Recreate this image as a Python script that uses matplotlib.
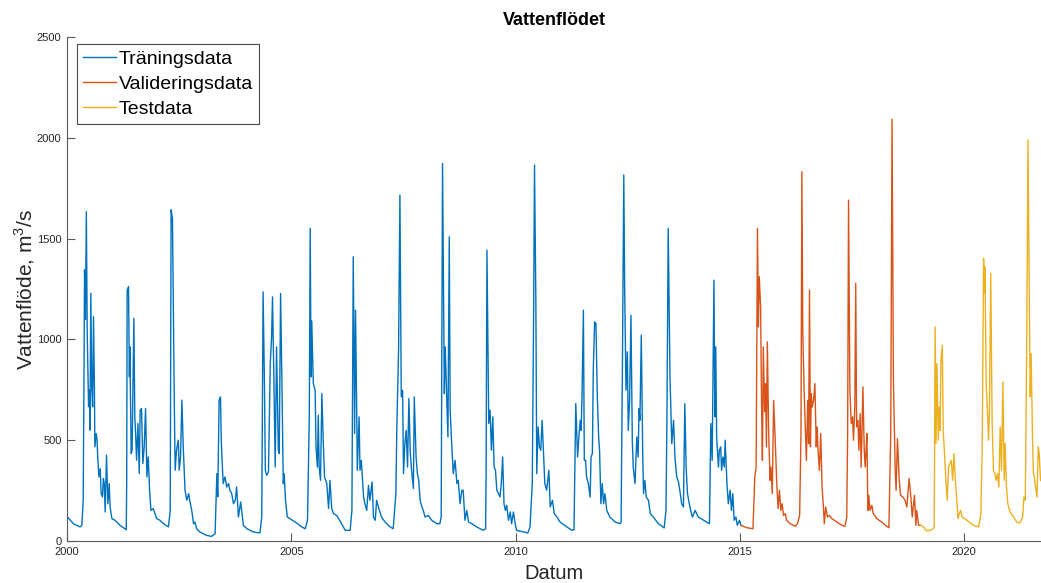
import matplotlib.pyplot as plt

plt.rcParams['font.family'] = ['Liberation Sans', 'DejaVu Sans']
plt.rcParams['mathtext.fontset'] = 'custom'
plt.rcParams['mathtext.rm'] = 'Liberation Sans'

# Flow (m3/s) against time in decimal years
train_t = [
    2000.00, 2000.14, 2000.29, 2000.33, 2000.36, 2000.38, 2000.39, 2000.41, 2000.43, 2000.45,
    2000.48, 2000.50, 2000.51, 2000.53, 2000.55, 2000.57, 2000.59, 2000.61, 2000.62, 2000.65,
    2000.67, 2000.68, 2000.71, 2000.74, 2000.76, 2000.79, 2000.81, 2000.83, 2000.85, 2000.88,
    2000.91, 2000.94, 2000.96, 2001.00, 2001.07, 2001.18, 2001.32,
    2001.33, 2001.34, 2001.37, 2001.39, 2001.40, 2001.43, 2001.45, 2001.49, 2001.51, 2001.53,
    2001.55, 2001.58, 2001.61, 2001.63, 2001.66, 2001.69, 2001.72, 2001.75, 2001.78, 2001.81,
    2001.84, 2001.87, 2001.92, 2002.00, 2002.07, 2002.15, 2002.26,
    2002.30, 2002.32, 2002.35, 2002.39, 2002.41, 2002.44, 2002.48, 2002.50, 2002.53, 2002.56,
    2002.59, 2002.63, 2002.67, 2002.71, 2002.74, 2002.78, 2002.82, 2002.85, 2002.89, 2002.96,
    2003.11, 2003.22, 2003.30,
    2003.34, 2003.36, 2003.39, 2003.42, 2003.44, 2003.48, 2003.52, 2003.56, 2003.60, 2003.63,
    2003.67, 2003.71, 2003.75, 2003.78, 2003.82, 2003.87, 2003.93, 2004.01, 2004.15, 2004.30,
    2004.34, 2004.37, 2004.40, 2004.42, 2004.45, 2004.49, 2004.53, 2004.56, 2004.58, 2004.61,
    2004.64, 2004.67, 2004.71, 2004.73, 2004.76, 2004.79, 2004.82, 2004.84, 2004.87, 2004.91,
    2004.97, 2005.12, 2005.23, 2005.31,
    2005.36, 2005.40, 2005.42, 2005.44, 2005.45, 2005.47, 2005.49, 2005.53, 2005.55, 2005.58,
    2005.60, 2005.62, 2005.65, 2005.68, 2005.71, 2005.74, 2005.79, 2005.83, 2005.86, 2005.90,
    2005.94, 2006.01, 2006.12, 2006.20, 2006.31,
    2006.35, 2006.38, 2006.41, 2006.43, 2006.45, 2006.47, 2006.51, 2006.53, 2006.56, 2006.61,
    2006.64, 2006.68, 2006.72, 2006.75, 2006.80, 2006.83, 2006.87, 2006.90, 2006.94, 2007.01,
    2007.09, 2007.20, 2007.27,
    2007.33, 2007.35, 2007.39, 2007.42, 2007.45, 2007.48, 2007.50, 2007.53, 2007.56, 2007.59,
    2007.62, 2007.65, 2007.68, 2007.72, 2007.74, 2007.78, 2007.81, 2007.84, 2007.87, 2007.91,
    2007.94, 2007.98, 2008.05, 2008.13, 2008.24, 2008.31,
    2008.34, 2008.37, 2008.41, 2008.43, 2008.46, 2008.49, 2008.52, 2008.54, 2008.57, 2008.61,
    2008.65, 2008.69, 2008.72, 2008.76, 2008.80, 2008.83, 2008.87, 2008.91, 2008.95, 2009.02,
    2009.13, 2009.28, 2009.33,
    2009.34, 2009.36, 2009.40, 2009.43, 2009.46, 2009.49, 2009.52, 2009.55, 2009.58, 2009.62,
    2009.65, 2009.68, 2009.71, 2009.74, 2009.77, 2009.80, 2009.84, 2009.88, 2009.91, 2009.95,
    2009.99, 2010.02, 2010.17, 2010.27, 2010.32,
    2010.37, 2010.40, 2010.42, 2010.45, 2010.47, 2010.50, 2010.53, 2010.56, 2010.59, 2010.62,
    2010.65, 2010.69, 2010.74, 2010.77, 2010.82, 2010.86, 2010.92, 2010.99, 2011.14, 2011.25,
    2011.30,
    2011.34, 2011.38, 2011.41, 2011.44, 2011.46, 2011.48, 2011.51, 2011.53, 2011.56, 2011.58,
    2011.62, 2011.66, 2011.68, 2011.71, 2011.73, 2011.76, 2011.79, 2011.82, 2011.85, 2011.87,
    2011.90, 2011.93, 2011.96, 2011.99, 2012.03, 2012.10, 2012.22, 2012.33,
    2012.35, 2012.38, 2012.41, 2012.43, 2012.46, 2012.49, 2012.51, 2012.54, 2012.57, 2012.60,
    2012.62, 2012.66, 2012.70, 2012.73, 2012.75, 2012.77, 2012.80, 2012.83, 2012.85, 2012.88,
    2012.91, 2012.96, 2013.00, 2013.07, 2013.18, 2013.31,
    2013.35, 2013.37, 2013.40, 2013.44, 2013.48, 2013.52, 2013.55, 2013.59, 2013.63, 2013.67,
    2013.70, 2013.74, 2013.77, 2013.80, 2013.83, 2013.87, 2013.90, 2013.94, 2014.00, 2014.07,
    2014.19, 2014.26, 2014.32,
    2014.35, 2014.38, 2014.42, 2014.44, 2014.46, 2014.48, 2014.52, 2014.54, 2014.57, 2014.59,
    2014.62, 2014.65, 2014.67, 2014.71, 2014.74, 2014.78, 2014.81, 2014.84, 2014.87, 2014.91,
    2014.94, 2014.99, 2015.02,
]
train_q = [
    122, 86, 70, 78, 202, 897, 1345, 1100, 1634, 1030,
    666, 749, 550, 1229, 765, 666, 1113, 765, 467, 533,
    500, 434, 318, 359, 235, 219, 310, 285, 144, 426,
    185, 285, 169, 111, 103, 78, 56,
    300, 1245, 1262, 815, 964, 434, 450, 1105, 616, 525,
    401, 583, 335, 649, 657, 384, 467, 657, 318, 417,
    252, 152, 161, 111, 103, 86, 70,
    150, 1643, 1600, 700, 351, 450, 500, 351, 417, 699,
    467, 252, 202, 235, 194, 152, 86, 94, 61, 45,
    28, 23, 36,
    335, 219, 699, 715, 483, 285, 318, 268, 285, 252,
    235, 185, 202, 268, 119, 194, 78, 61, 45, 40,
    119, 1236, 781, 351, 326, 342, 880, 1013, 1211, 814,
    367, 963, 450, 434, 1228, 781, 285, 334, 202, 119,
    111, 89, 70, 61,
    103, 616, 1551, 814, 1092, 947, 781, 748, 467, 367,
    624, 367, 301, 732, 500, 318, 285, 161, 301, 161,
    136, 127, 86, 53, 53,
    152, 1410, 533, 1145, 781, 351, 616, 351, 400, 218,
    185, 152, 276, 202, 293, 119, 103, 202, 169, 119,
    94, 70, 61,
    235, 549, 947, 1716, 715, 748, 334, 483, 549, 367,
    707, 442, 351, 260, 715, 417, 334, 301, 202, 169,
    152, 119, 127, 103, 86, 86,
    119, 1873, 731, 963, 748, 516, 1509, 649, 500, 334,
    400, 285, 301, 185, 252, 252, 103, 152, 94, 86,
    70, 53, 61,
    300, 1443, 583, 649, 450, 616, 367, 351, 252, 235,
    218, 285, 417, 185, 152, 177, 103, 144, 86, 144,
    86, 53, 45, 40, 70,
    285, 1112, 1865, 1195, 334, 566, 467, 450, 599, 442,
    285, 252, 351, 169, 202, 136, 119, 94, 70, 53,
    56,
    682, 417, 517, 599, 549, 731, 1145, 400, 400, 318,
    285, 218, 417, 434, 847, 1087, 1079, 715, 516, 450,
    185, 285, 185, 235, 152, 119, 94, 86,
    94, 880, 1816, 1245, 748, 938, 549, 698, 1120, 500,
    367, 285, 516, 417, 657, 599, 1021, 467, 235, 301,
    218, 202, 136, 119, 86, 65,
    150, 549, 1551, 814, 483, 599, 417, 318, 293, 235,
    185, 169, 682, 367, 235, 185, 152, 119, 152, 119,
    103, 94, 86,
    583, 400, 1294, 616, 963, 516, 367, 450, 467, 351,
    417, 367, 500, 285, 185, 252, 152, 235, 103, 119,
    78, 103, 78,
]

val_t = [
    2015.02, 2015.15, 2015.29,
    2015.33, 2015.36, 2015.39, 2015.41, 2015.43, 2015.46, 2015.48, 2015.50, 2015.52, 2015.55,
    2015.57, 2015.59, 2015.61, 2015.64, 2015.67, 2015.69, 2015.72, 2015.75, 2015.78, 2015.82,
    2015.85, 2015.88, 2015.91, 2015.94, 2015.97, 2016.01, 2016.04, 2016.12, 2016.23, 2016.28,
    2016.33, 2016.36, 2016.38, 2016.40, 2016.43, 2016.46, 2016.48, 2016.51, 2016.53, 2016.55,
    2016.57, 2016.59, 2016.61, 2016.64, 2016.67, 2016.70, 2016.72, 2016.74, 2016.77, 2016.80,
    2016.83, 2016.86, 2016.88, 2016.91, 2016.95, 2016.99, 2017.05, 2017.16, 2017.27, 2017.34,
    2017.38, 2017.40, 2017.42, 2017.45, 2017.48, 2017.51, 2017.53, 2017.56, 2017.58, 2017.60,
    2017.63, 2017.65, 2017.68, 2017.70, 2017.72, 2017.74, 2017.77, 2017.79, 2017.81, 2017.83,
    2017.85, 2017.87, 2017.90, 2017.94, 2017.97, 2018.05, 2018.16, 2018.27, 2018.32,
    2018.36, 2018.39, 2018.42, 2018.46, 2018.48, 2018.51, 2018.55, 2018.58, 2018.63, 2018.68,
    2018.72, 2018.77, 2018.81, 2018.84, 2018.89, 2018.92, 2018.94, 2018.98, 2019.03,
]
val_q = [
    78, 66, 61,
    318, 367, 1551, 1062, 1311, 1162, 698, 400, 963, 641,
    781, 467, 988, 533, 301, 367, 235, 698, 533, 285,
    161, 252, 152, 185, 127, 136, 103, 86, 73, 86,
    127, 533, 1832, 1029, 748, 533, 400, 698, 483, 1245,
    467, 731, 665, 698, 781, 467, 566, 450, 351, 533,
    268, 169, 86, 169, 119, 127, 111, 94, 78, 73,
    119, 533, 1691, 748, 583, 616, 500, 665, 1278, 566,
    599, 450, 632, 367, 533, 765, 450, 367, 450, 533,
    152, 227, 152, 177, 136, 111, 94, 73, 66,
    533, 2092, 800, 350, 252, 508, 301, 227, 218, 202,
    169, 310, 218, 119, 227, 78, 152, 78, 78,
]

test_t = [
    2019.03, 2019.09, 2019.16, 2019.28, 2019.33,
    2019.35, 2019.37, 2019.39, 2019.42, 2019.44, 2019.46, 2019.48, 2019.51, 2019.53, 2019.56,
    2019.59, 2019.62, 2019.65, 2019.68, 2019.71, 2019.74, 2019.77, 2019.80, 2019.83, 2019.86,
    2019.89, 2019.92, 2019.95, 2020.06, 2020.20, 2020.32,
    2020.37, 2020.40, 2020.43, 2020.45, 2020.46, 2020.49, 2020.52, 2020.54, 2020.56, 2020.59,
    2020.62, 2020.65, 2020.68, 2020.71, 2020.74, 2020.77, 2020.80, 2020.83, 2020.86, 2020.89,
    2020.91, 2020.94, 2020.97, 2021.01, 2021.04, 2021.10, 2021.17, 2021.24, 2021.30,
    2021.33, 2021.36, 2021.39, 2021.42, 2021.44, 2021.47, 2021.49, 2021.52, 2021.54, 2021.56,
    2021.59, 2021.62, 2021.65, 2021.67, 2021.70,
]
test_q = [
    78, 70, 50, 56, 70,
    1062, 483, 880, 500, 665, 549, 897, 971, 549, 434,
    301, 202, 367, 384, 400, 301, 434, 301, 218, 111,
    136, 152, 119, 103, 78, 70,
    136, 467, 1402, 1228, 1360, 765, 632, 500, 632, 1327,
    600, 351, 334, 301, 334, 268, 566, 351, 789, 301,
    483, 268, 185, 152, 136, 119, 94, 89, 119,
    218, 202, 930, 1989, 1450, 715, 930, 517, 334, 317,
    268, 218, 467, 434, 300,
]

year_ticks = [2000, 2005, 2010, 2015, 2020]
flow_ticks = [0, 500, 1000, 1500, 2000, 2500]

fig = plt.figure(figsize=(10.41, 5.83), dpi=100)
ax = fig.add_axes([0.0644, 0.072, 0.9356, 0.8645])

ax.plot(train_t, train_q, color='#0072BD', lw=1.0, label='Träningsdata')
ax.plot(val_t, val_q, color='#D95319', lw=1.0, label='Valideringsdata')
ax.plot(test_t, test_q, color='#EDB120', lw=1.0, label='Testdata')

ax.set_xlim(2000, 2021.71)
ax.set_ylim(0, 2500)
ax.set_xticks(year_ticks)
ax.set_xticklabels([str(y) for y in year_ticks])
ax.set_yticks(flow_ticks)

for side in ['top', 'right']:
    ax.spines[side].set_visible(False)
for side in ['left', 'bottom']:
    ax.spines[side].set_color('#5a5a5a')
    ax.spines[side].set_linewidth(0.8)
ax.tick_params(direction='in', length=6, width=0.8, color='#5a5a5a',
               labelsize=8, labelcolor='#262626', pad=4)

ax.set_title('Vattenflödet', fontsize=13, fontweight='bold', pad=9)
ax.set_xlabel('Datum', fontsize=14.5, color='#262626', labelpad=5)
ax.set_ylabel('Vattenflöde, m$^3$/s', fontsize=15, color='#262626', labelpad=0)

leg = ax.legend(loc='upper left', bbox_to_anchor=(0.0103, 0.986), borderaxespad=0,
                fontsize=14, handlelength=1.7, handletextpad=0.15, labelspacing=0.4,
                borderpad=0.3, fancybox=False, framealpha=1)
leg.get_frame().set_edgecolor('#4a4a4a')
leg.get_frame().set_linewidth(0.8)

fig.savefig('out.png', dpi=100)
